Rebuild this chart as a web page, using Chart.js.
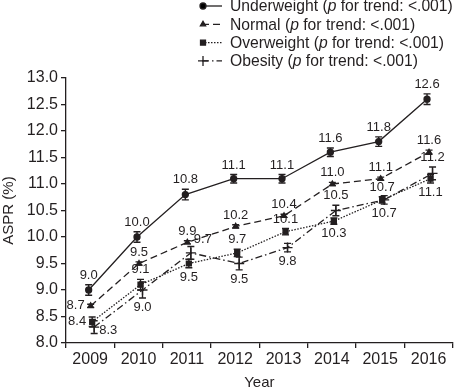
<!DOCTYPE html>
<html>
<head>
<meta charset="utf-8">
<script src="https://cdn.jsdelivr.net/npm/chart.js@4"></script>
<style>
  html, body { margin: 0; padding: 0; background: #fff; }
  #wrap { width: 459px; height: 392px; position: relative; }
</style>
</head>
<body>
<div id="wrap"><canvas id="chart"></canvas></div>
<script>
const years = ['2009', '2010', '2011', '2012', '2013', '2014', '2015', '2016'];

const underweight = [9.0, 10.0, 10.8, 11.1, 11.1, 11.6, 11.8, 12.6];
const normal      = [8.7, 9.5, 9.9, 10.2, 10.4, 11.0, 11.1, 11.6];
const overweight  = [8.4, 9.1, 9.5, 9.7, 10.1, 10.3, 10.7, 11.1];
const obesity     = [8.3, 9.0, 9.7, 9.5, 9.8, 10.5, 10.7, 11.2];

// half length of the error bars
const underweightErr = [0.10, 0.10, 0.10, 0.08, 0.08, 0.08, 0.09, 0.10];
const normalErr      = [0.03, 0.03, 0.03, 0.03, 0.03, 0.03, 0.03, 0.04];
const overweightErr  = [0.09, 0.10, 0.08, 0.07, 0.06, 0.06, 0.06, 0.08];
const obesityErr     = [0.12, 0.15, 0.12, 0.12, 0.08, 0.10, 0.08, 0.12];

const seriesNames = ['Underweight', 'Normal', 'Overweight', 'Obesity'];
const trendText = ' for trend: <.001)';

const INK = '#231f20';
const FONT = "'Liberation Sans', Arial, sans-serif";

// where each value label sits next to its point
const labelPos = [
  ['top', 'top', 'top', 'top', 'top', 'top', 'top', 'top'],
  ['left', 'top', 'top', 'top', 'top', 'top', 'top', 'top'],
  ['left', 'top', 'bottom', 'top', 'top', 'bottom', 'top', 'bottom'],
  ['right', 'bottom', 'topright', 'bottom', 'bottom', 'top', 'bottom', 'top'],
];

const errorBars = {
  id: 'errorBars',
  afterDatasetsUpdate(chart) {
    chart.data.datasets.forEach((ds, i) => {
      chart.getDatasetMeta(i).data.forEach(pt => { pt.x += ds.dodge; });
    });
  },
  afterDatasetsDraw(chart) {
    const ctx = chart.ctx;
    const y = chart.scales.y;
    ctx.save();
    ctx.strokeStyle = INK;
    ctx.lineWidth = 1.4;
    ctx.setLineDash([]);
    chart.data.datasets.forEach((ds, i) => {
      chart.getDatasetMeta(i).data.forEach((pt, j) => {
        const v = ds.data[j], e = ds.err[j];
        const y0 = y.getPixelForValue(v - e), y1 = y.getPixelForValue(v + e);
        ctx.beginPath();
        ctx.moveTo(pt.x, y0); ctx.lineTo(pt.x, y1);
        ctx.moveTo(pt.x - 3.5, y0); ctx.lineTo(pt.x + 3.5, y0);
        ctx.moveTo(pt.x - 3.5, y1); ctx.lineTo(pt.x + 3.5, y1);
        ctx.stroke();
      });
    });
    // value labels
    ctx.fillStyle = INK;
    ctx.font = '13px ' + FONT;
    chart.data.datasets.forEach((ds, i) => {
      chart.getDatasetMeta(i).data.forEach((pt, j) => {
        const v = ds.data[j], e = ds.err[j];
        const top = y.getPixelForValue(v + e), bot = y.getPixelForValue(v - e);
        const pos = labelPos[i][j];
        const txt = v.toFixed(1);
        if (pos === 'top') {
          ctx.textAlign = 'center'; ctx.textBaseline = 'bottom';
          ctx.fillText(txt, pt.x, top - 3);
        } else if (pos === 'bottom') {
          ctx.textAlign = 'center'; ctx.textBaseline = 'top';
          ctx.fillText(txt, pt.x, bot + 3);
        } else if (pos === 'left') {
          ctx.textAlign = 'right'; ctx.textBaseline = 'middle';
          ctx.fillText(txt, pt.x - 6, pt.y);
        } else if (pos === 'right') {
          ctx.textAlign = 'left'; ctx.textBaseline = 'middle';
          ctx.fillText(txt, pt.x + 5, pt.y + 3);
        } else {
          ctx.textAlign = 'left'; ctx.textBaseline = 'middle';
          ctx.fillText(txt, pt.x + 3, pt.y - 13);
        }
      });
    });
    ctx.restore();
  }
};

const legendBox = {
  id: 'legendBox',
  afterDraw(chart) {
    const ctx = chart.ctx;
    ctx.save();
    chart.data.datasets.forEach((ds, i) => {
      const cy = 6 + i * 18.3;
      ctx.strokeStyle = INK;
      ctx.lineWidth = 1.3;
      ctx.setLineDash(ds.borderDash || []);
      ctx.beginPath();
      ctx.moveTo(202, cy); ctx.lineTo(222, cy);
      ctx.stroke();
      ctx.setLineDash([]);
      Chart.helpers.drawPoint(ctx, {
        pointStyle: ds.pointStyle, radius: ds.pointRadius, borderWidth: 1.3
      }, 203, cy);
      ctx.fillStyle = INK;
      ctx.textBaseline = 'middle';
      ctx.textAlign = 'left';
      let x = 230;
      const parts = [[seriesNames[i] + ' (', 'normal'], ['p', 'italic'], [trendText, 'normal']];
      parts.forEach(([t, st]) => {
        ctx.font = st + ' 15.7px ' + FONT;
        ctx.fillText(t, x, cy + 1);
        x += ctx.measureText(t).width;
      });
    });
    ctx.restore();
  }
};

function series(label, data, err, style, radius, dash, dodge) {
  return {
    label, data, err, dodge,
    borderColor: INK, backgroundColor: INK,
    borderWidth: 1.3, borderDash: dash,
    pointStyle: style, pointRadius: radius, pointBorderWidth: 1.3,
    pointBackgroundColor: INK, pointBorderColor: INK,
    tension: 0, fill: false,
  };
}

new Chart(document.getElementById('chart'), {
  type: 'line',
  data: {
    labels: years,
    datasets: [
      series('Underweight', underweight, underweightErr, 'circle', 3, [], -1.5),
      series('Normal', normal, normalErr, 'triangle', 3, [7, 4], 0.5),
      series('Overweight', overweight, overweightErr, 'rect', 3.5, [1.5, 1.5], 2),
      series('Obesity', obesity, obesityErr, 'cross', 5, [7, 3, 1.5, 3], 4),
    ]
  },
  options: {
    responsive: true,
    maintainAspectRatio: false,
    animation: false,
    events: [],
    layout: { padding: { top: 78, right: 1, left: 0, bottom: 0 } },
    plugins: { legend: { display: false }, tooltip: { enabled: false } },
    scales: {
      x: {
        offset: true,
        grid: { offset: true, drawOnChartArea: false, drawTicks: true, tickLength: 5, color: INK, lineWidth: 1.3 },
        border: { display: true, color: INK, width: 1.3 },
        ticks: { color: INK, font: { family: FONT, size: 16 }, padding: 2, maxRotation: 0 },
        title: { display: true, text: 'Year', color: INK, font: { family: FONT, size: 15 }, padding: { top: 4, bottom: 0 } },
        afterFit(s) { s.height = 49; }
      },
      y: {
        min: 8, max: 13,
        grid: { drawOnChartArea: false, drawTicks: true, tickLength: 5, color: INK, lineWidth: 1.3 },
        border: { display: true, color: INK, width: 1.3 },
        ticks: { stepSize: 0.5, color: INK, font: { family: FONT, size: 16 }, padding: 3,
                 callback: v => v.toFixed(1) },
        title: { display: true, text: 'ASPR (%)', color: INK, font: { family: FONT, size: 15 }, padding: { top: 0, bottom: 2 } },
        afterFit(s) { s.width = 66; }
      }
    }
  },
  plugins: [errorBars, legendBox]
});
</script>
</body>
</html>
